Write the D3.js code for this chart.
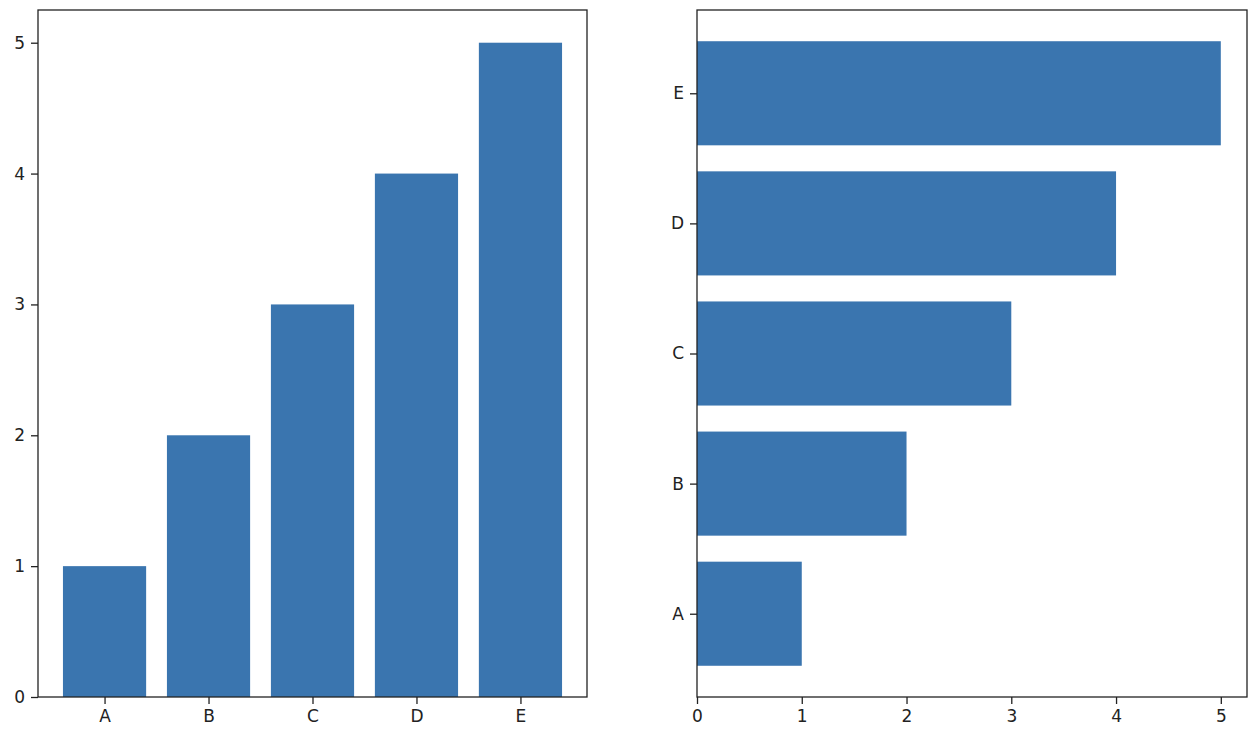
<!DOCTYPE html>
<html>
<head>
<meta charset="utf-8">
<script src="https://cdn.jsdelivr.net/npm/d3@7"></script>
<style>
  body { margin: 0; background: #fff; }
  text { font-family: "DejaVu Sans", sans-serif; }
</style>
</head>
<body>
<script>
var w = 1254;
var h = 738;

var categories = ["A", "B", "C", "D", "E"];
var values = [1, 2, 3, 4, 5];
var valueTicks = [0, 1, 2, 3, 4, 5];

var barColor = "#3a75af";
var fontSize = "17px";

var svg = d3.select("body").append("svg").attr("width", w).attr("height", h);

// panel boxes
var left = { x0: 38, x1: 587, y0: 10, y1: 697 };
var right = { x0: 697, x1: 1247, y0: 10, y1: 697 };

// category positions with matplotlib margins: -0.64 .. 4.64
var catScaleV = d3.scaleLinear().domain([-0.64, 4.64]).range([left.x0, left.x1]);
var valScaleV = d3.scaleLinear().domain([0, 5.25]).range([left.y1, left.y0]);

var valScaleH = d3.scaleLinear().domain([0, 5.25]).range([right.x0, right.x1]);
var catScaleH = d3.scaleLinear().domain([-0.64, 4.64]).range([right.y1, right.y0]);

var barW = 0.8;

//Left: vertical bars
var g1 = svg.append("g");
g1.selectAll("rect")
    .data(values).enter()
    .append("rect")
    .attr("x", (d, i) => catScaleV(i - barW / 2))
    .attr("y", (d) => valScaleV(d))
    .attr("width", (d, i) => catScaleV(i + barW / 2) - catScaleV(i - barW / 2))
    .attr("height", (d) => valScaleV(0) - valScaleV(d))
    .attr("fill", barColor);

g1.append("g")
    .attr("transform", "translate(0," + left.y1 + ")")
    .call(d3.axisBottom(catScaleV).tickValues(d3.range(categories.length))
        .tickFormat((d) => categories[d]).tickSizeOuter(0).tickSize(7).tickPadding(6));

g1.append("g")
    .attr("transform", "translate(" + left.x0 + ",0)")
    .call(d3.axisLeft(valScaleV).tickValues(valueTicks).tickFormat(d3.format("d"))
        .tickSizeOuter(0).tickSize(7).tickPadding(6));

g1.append("rect")
    .attr("x", left.x0).attr("y", left.y0)
    .attr("width", left.x1 - left.x0).attr("height", left.y1 - left.y0)
    .attr("fill", "none").attr("stroke", "#222").attr("stroke-width", 1.3);

//Right: horizontal bars
var g2 = svg.append("g");
g2.selectAll("rect")
    .data(values).enter()
    .append("rect")
    .attr("x", valScaleH(0))
    .attr("y", (d, i) => catScaleH(i + barW / 2))
    .attr("width", (d) => valScaleH(d) - valScaleH(0))
    .attr("height", (d, i) => catScaleH(i - barW / 2) - catScaleH(i + barW / 2))
    .attr("fill", barColor);

g2.append("g")
    .attr("transform", "translate(0," + right.y1 + ")")
    .call(d3.axisBottom(valScaleH).tickValues(valueTicks).tickFormat(d3.format("d"))
        .tickSizeOuter(0).tickSize(7).tickPadding(6));

g2.append("g")
    .attr("transform", "translate(" + right.x0 + ",0)")
    .call(d3.axisLeft(catScaleH).tickValues(d3.range(categories.length))
        .tickFormat((d) => categories[d]).tickSizeOuter(0).tickSize(7).tickPadding(6));

g2.append("rect")
    .attr("x", right.x0).attr("y", right.y0)
    .attr("width", right.x1 - right.x0).attr("height", right.y1 - right.y0)
    .attr("fill", "none").attr("stroke", "#222").attr("stroke-width", 1.3);

svg.selectAll(".domain").remove();
svg.selectAll(".tick line").attr("stroke", "#222").attr("stroke-width", 1.3);
svg.selectAll(".tick text")
    .attr("font-family", "DejaVu Sans, sans-serif")
    .attr("font-size", fontSize)
    .attr("fill", "#222");
</script>
</body>
</html>
